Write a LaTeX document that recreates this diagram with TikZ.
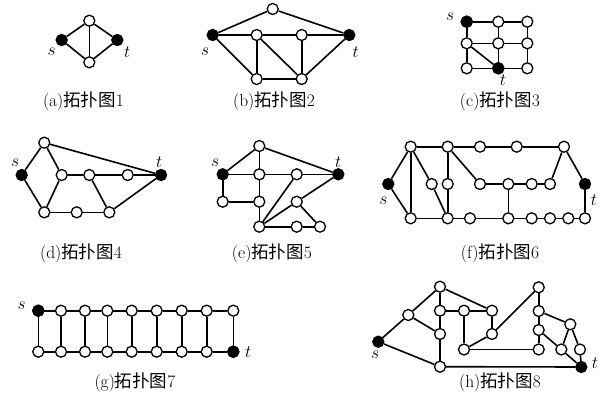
\documentclass[tikz,border=0pt]{standalone}
\usepackage{fontspec}
\newfontfamily\cjk{Noto Sans CJK SC}
\begin{document}
\begin{tikzpicture}[x=1pt,y=-1pt,
  v/.style={circle,draw,fill=white,minimum size=11pt,inner sep=0pt,line width=1.3pt},
  sv/.style={v,fill=black},
  ed/.style={line width=1.6pt},
  lab/.style={font=\fontsize{17.5}{20}\selectfont,inner sep=0pt},
  captext/.style={font=\fontsize{17.5}{20}\selectfont,inner sep=0pt}]
\useasboundingbox (0,0) rectangle (603,410);
% (a)
\node[sv] (as) at (61.7,40) {};
\node[v] (a1) at (89.3,20.7) {};
\node[sv] (at) at (117.3,40) {};
\node[v] (a2) at (89.3,62.3) {};
\node[lab] (asl) at (51.7,52) {$s$};
\node[lab] (atl) at (127.3,52) {$t$};
\foreach \p/\q in {as/a1,as/a2,a1/a2,a1/at,a2/at} \draw[ed] (\p) -- (\q);
\node[captext] (capa) at (83.5,101) {(a){\cjk 拓扑图}1};
% (b)
\node[sv] (bs) at (212.7,35) {};
\node[v] (b0) at (272.7,9) {};
\node[sv] (bt) at (349.3,35) {};
\node[v] (b1) at (256.7,35) {};
\node[v] (b2) at (301.7,35) {};
\node[v] (b3) at (256.7,79) {};
\node[v] (b4) at (301.7,79) {};
\node[lab] (bsl) at (205,52) {$s$};
\node[lab] (btl) at (355.7,52) {$t$};
\foreach \p/\q in {bs/b0,b0/bt,bs/b1,b1/b2,b2/bt,bs/b3,b1/b3,b1/b4,b2/b4,b3/b4,b4/bt} \draw[ed] (\p) -- (\q);
\node[captext] (capb) at (274,101) {(b){\cjk 拓扑图}2};
% (c)
\foreach \r/\y in {1/21.7,2/43.3,3/68.3}
  \foreach \c/\x in {1/466.7,2/498.3,3/527.3}
    \node[v] (c\r\c) at (\x,\y) {};
\node[sv] at (c11) {};
\node[sv] at (c32) {};
\foreach \p/\q in {c11/c12,c12/c13,c21/c22,c22/c23,c31/c32,c32/c33,c11/c21,c21/c31,c12/c22,c22/c32,c13/c23,c23/c33,c21/c32} \draw[ed] (\p) -- (\q);
\node[lab] (csl) at (450,16.7) {$s$};
\node[lab] (ctl) at (503,80) {$t$};
\node[captext] (capc) at (500,101) {(c){\cjk 拓扑图}3};
% (d)
\node[sv] (ds) at (21.7,175) {};
\node[v] (d0) at (44.3,142.7) {};
\node[v] (d1) at (61.7,175) {};
\node[v] (d2) at (89.3,175) {};
\node[v] (d3) at (127.7,175) {};
\node[sv] (dt) at (161,175) {};
\node[v] (d4) at (44.3,212.3) {};
\node[v] (d5) at (76.7,212.3) {};
\node[v] (d6) at (109.3,212.3) {};
\node[lab] (dsl) at (15,163) {$s$};
\node[lab] (dtl) at (159.3,162) {$t$};
\foreach \p/\q in {ds/d0,ds/d4,d0/d1,d0/dt,d1/d4,d1/d2,d2/d3,d3/dt,d2/d6,d4/d5,d5/d6,d6/dt} \draw[ed] (\p) -- (\q);
\node[captext] (capd) at (81,253) {(d){\cjk 拓扑图}4};
% (e)
\node[v] (e0) at (259.3,146) {};
\node[sv] (es) at (222.7,174.3) {};
\node[v] (e1) at (259.3,174.3) {};
\node[v] (e2) at (296.7,174.3) {};
\node[sv] (et) at (338.3,174.3) {};
\node[v] (e3) at (222.7,201.7) {};
\node[v] (e4) at (259.3,201.7) {};
\node[v] (e5) at (296.7,201.7) {};
\node[v] (e6) at (259.3,226.7) {};
\node[v] (e7) at (296.7,226.7) {};
\node[v] (e8) at (320,226.7) {};
\node[lab] (esl) at (215,163) {$s$};
\node[lab] (etl) at (338.3,162) {$t$};
\foreach \p/\q in {es/e0,e0/e1,e0/et,es/e1,e1/e2,e2/et,es/e3,e3/e4,e1/e4,e4/e6,e6/e2,e6/e5,e5/et,e6/e7,e7/e8,e5/e8} \draw[ed] (\p) -- (\q);
\node[captext] (cape) at (272,253) {(e){\cjk 拓扑图}5};
% (f)
\foreach \i/\x in {1/410.7,2/447.7,3/480,4/516.7,5/564}
  \node[v] (fT\i) at (\x,146.7) {};
\foreach \i/\x in {1/431.7,2/447.7,3/480,4/508.3,5/531.7,6/550}
  \node[v] (fM\i) at (\x,184) {};
\foreach \i/\x in {1/410.7,2/447.7,3/470,4/508.3,5/531.7,6/550,7/568.3,8/585}
  \node[v] (fB\i) at (\x,218.3) {};
\node[sv] (fs) at (388.3,184) {};
\node[sv] (ft) at (585,184) {};
\node[lab] (fsl) at (383.3,200.7) {$s$};
\node[lab] (ftl) at (594,200) {$t$};
\foreach \p/\q in {fs/fT1,fs/fB1,fT1/fB1,fT1/fM1,fM1/fB2,fT1/fT2,fT2/fM2,fM2/fB2,fT2/fT3,fT3/fT4,fT4/fT5,fT2/fM3,fM3/fM4,fM4/fM5,fM5/fM6,fM6/fT5,fT5/ft,fM4/fB4,fB1/fB2,fB2/fB3,fB3/fB4,fB4/fB5,fB5/fB6,fB6/fB7,fB7/fB8,fB8/ft} \draw[ed] (\p) -- (\q);
\node[captext] (capf) at (500,253) {(f){\cjk 拓扑图}6};
% (g)
\foreach \i/\x in {1/38.3,2/61,3/85,4/107.3,5/131.7,6/156.7,7/181.7,8/206.7,9/233.3} {
  \node[v] (gT\i) at (\x,310.7) {};
  \node[v] (gB\i) at (\x,351.7) {};
}
\node[sv] at (gT1) {};
\node[sv] at (gB9) {};
\foreach \i in {1,...,9} \draw[ed] (gT\i) -- (gB\i);
\foreach \i [count=\j from 2] in {1,...,8} {
  \draw[ed] (gT\i) -- (gT\j);
  \draw[ed] (gB\i) -- (gB\j);
}
\node[lab] (gsl) at (21.7,306) {$s$};
\node[lab] (gtl) at (248.3,352.5) {$t$};
\node[captext] (capg) at (135,382) {(g){\cjk 拓扑图}7};
% (h)
\node[sv] (hs) at (378.3,341.7) {};
\node[v] (hA) at (440,286.7) {};
\node[v] (hB) at (408.3,315) {};
\node[v] (hC) at (440,310.7) {};
\node[v] (hD) at (464,310.7) {};
\node[v] (hE) at (492,310.7) {};
\node[v] (hF) at (440,334) {};
\node[v] (hG) at (492,334) {};
\node[v] (hH) at (464,349.5) {};
\node[v] (hI) at (440,366.7) {};
\node[v] (hJ) at (538.7,287.3) {};
\node[v] (hK) at (538.7,311) {};
\node[v] (hL) at (538.7,330) {};
\node[v] (hM) at (538.7,349.5) {};
\node[v] (hN) at (570.3,324.3) {};
\node[v] (hO) at (561.3,349.5) {};
\node[v] (hP) at (580,349.5) {};
\node[sv] (ht) at (581.3,367) {};
\node[lab] (hsl) at (375,355) {$s$};
\node[lab] (htl) at (595,363.5) {$t$};
\foreach \p/\q in {hs/hB,hs/hI,hB/hA,hB/hF,hA/hC,hC/hF,hF/hI,hA/hE,hC/hD,hD/hE,hD/hH,hE/hG,hG/hH,hH/hM,hG/hJ,hJ/hK,hK/hL,hL/hM,hK/hN,hN/hO,hN/hP,hL/hO,hO/ht,hP/ht,hI/ht} \draw[ed] (\p) -- (\q);
\node[captext] (caph) at (500,382) {(h){\cjk 拓扑图}8};
\end{tikzpicture}
\end{document}
